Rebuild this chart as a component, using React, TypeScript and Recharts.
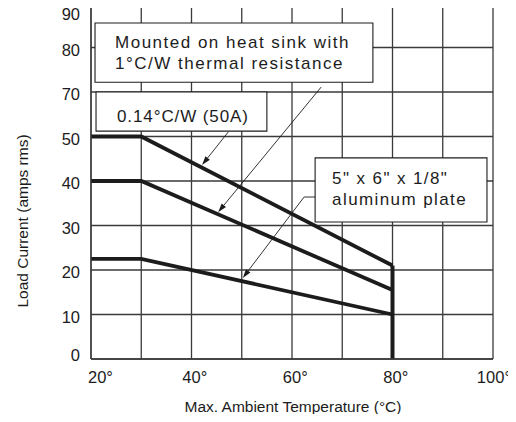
import React from 'react';
import { LineChart, Line, XAxis, YAxis, CartesianGrid, ReferenceLine, ReferenceArea } from 'recharts';

const FONT = '"Liberation Sans", Arial, Helvetica, sans-serif';
const INK = '#1c1c1c';
const RULE = '#3a3a3a';

// ambient temperature (°C) at the break points of each derating curve
const TEMPS = [20, 30, 80];
const SINK_014 = [50, 50, 21]; // 0.14°C/W heat sink (50A)
const SINK_1 = [40, 40, 15.5]; // 1°C/W heat sink
const PLATE = [22.5, 22.5, 10]; // 5" x 6" x 1/8" aluminum plate
const CUTOFF_T = 80;
const CUTOFF_I = [21, 0];

const X_TICKS = [20, 40, 60, 80, 100];
const X_GRID = [20, 30, 40, 50, 60, 70, 80, 90, 100];
// the printed scale has nine even rules and skips the 60 label
const Y_TICKS = [0, 10, 20, 30, 40, 50, 60, 70, 80];
const Y_TICK_LABELS = ['0', '10', '20', '30', '40', '50', '70', '80', '90'];

const rows = TEMPS.map((t, i) => ({ t, a: SINK_014[i], b: SINK_1[i], c: PLATE[i] }));
const cutoff = CUTOFF_I.map((v) => ({ t: CUTOFF_T, v }));

// callout boxes and their pointers, in chart coordinates
const NOTES = [
  { lines: ['Mounted on heat sink with', '1°C/W thermal resistance'], x: [20.8, 76.1], y: [62.2, 75.5], pad: 20, dy: 0, ls: 1.5 },
  { lines: ['0.14°C/W (50A)'], x: [21, 55], y: [51.2, 60], pad: 21, dy: 4, ls: 0.9 },
  { lines: ['5" x 6" x 1/8"', 'aluminum plate'], x: [64.6, 98.8], y: [30.8, 45.2], pad: 17, dy: -1, ls: 1.4 },
];
const POINTERS = [
  [[47.3, 51.0], [42.1, 43.6]],
  [[65.8, 61.1], [45.3, 33.0]],
  [[64.6, 36.4], [62.4, 36.4], [50.2, 18.2]],
];

const textStyle = { fontFamily: FONT, fill: INK };

function NoteText({ viewBox, lines, pad, dy, ls }: any) {
  const { x, y, height } = viewBox;
  const lh = 21;
  const top = y + height / 2 + dy - ((lines.length - 1) * lh) / 2;
  return (
    <text {...textStyle} fontSize={17} letterSpacing={ls}>
      {lines.map((l: string, i: number) => (
        <tspan key={i} x={x + pad} y={top + i * lh + 6}>
          {l}
        </tspan>
      ))}
    </text>
  );
}

const pointerShape = (head: boolean) => (p: any) => {
  const { x1, y1, x2, y2 } = p;
  const len = Math.hypot(x2 - x1, y2 - y1) || 1;
  const ux = (x2 - x1) / len;
  const uy = (y2 - y1) / len;
  const hl = 9;
  const hw = 2.8;
  const bx = x2 - ux * hl;
  const by = y2 - uy * hl;
  return (
    <g>
      <line x1={x1} y1={y1} x2={head ? bx : x2} y2={head ? by : y2} stroke={INK} strokeWidth={0.9} />
      {head && (
        <polygon
          points={`${x2},${y2} ${bx - uy * hw},${by + ux * hw} ${bx + uy * hw},${by - ux * hw}`}
          fill={INK}
        />
      )}
    </g>
  );
};

function XTick({ x, y, payload, index }: any) {
  const digits = String(payload.value);
  const last = index === X_TICKS.length - 1;
  const start = index === 0 ? x - 3 : x - (digits.length * 9.2) / 2;
  return (
    <text
      {...textStyle}
      fontSize={16.5}
      x={last ? x + 18 : start}
      y={y + 24}
      textAnchor={last ? 'end' : 'start'}
    >
      {digits}°
    </text>
  );
}

function YTick({ x, y, index }: any) {
  const cy = Math.min(Math.max(y + 2, 14), 355);
  return (
    <text {...textStyle} fontSize={16.5} x={x} y={cy + 6} textAnchor="end">
      {Y_TICK_LABELS[index]}
    </text>
  );
}

function XTitle({ viewBox }: any) {
  return (
    <text {...textStyle} fontSize={15.5} x={viewBox.x + viewBox.width / 2 + 1} y={viewBox.y + viewBox.height + 23} textAnchor="middle">
      Max. Ambient Temperature (°C)
    </text>
  );
}

function YTitle({ viewBox }: any) {
  const cx = viewBox.x - 9;
  const cy = viewBox.y + viewBox.height / 2 + 40;
  return (
    <text {...textStyle} fontSize={15.5} x={cx} y={cy} textAnchor="middle" dominantBaseline="central" transform={`rotate(-90 ${cx} ${cy})`}>
      Load Current (amps rms)
    </text>
  );
}

export default function App() {
  return (
    <div style={{ margin: -8, width: 516, height: 422, background: '#fff' }}>
      <LineChart width={516} height={422} data={rows} margin={{ top: 3, right: 23, left: 31, bottom: 33 }}>
        <CartesianGrid
          stroke={RULE}
          strokeWidth={1.3}
          verticalValues={X_GRID}
          horizontalValues={Y_TICKS}
        />
        <XAxis
          type="number"
          dataKey="t"
          domain={[20, 100]}
          ticks={X_TICKS}
          interval={0}
          height={30}
          tickLine={false}
          tickSize={0}
          tickMargin={0}
          axisLine={{ stroke: RULE, strokeWidth: 1.3 }}
          tick={<XTick />}
          label={<XTitle />}
        />
        <YAxis
          type="number"
          domain={[0, 80]}
          ticks={Y_TICKS}
          interval={0}
          width={60}
          tickLine={false}
          tickSize={0}
          tickMargin={11}
          axisLine={{ stroke: RULE, strokeWidth: 1.3 }}
          tick={<YTick />}
          label={<YTitle />}
        />
        {NOTES.map((n, i) => (
          <ReferenceArea
            key={'n' + i}
            x1={n.x[0]}
            x2={n.x[1]}
            y1={n.y[0]}
            y2={n.y[1]}
            fill="#fff"
            fillOpacity={1}
            stroke={INK}
            strokeWidth={1.1}
            ifOverflow="visible"
            label={<NoteText lines={n.lines} pad={n.pad} dy={n.dy} ls={n.ls} />}
          />
        ))}
        {POINTERS.flatMap((pts, i) =>
          pts.slice(1).map((p, j) => (
            <ReferenceLine
              key={'p' + i + '-' + j}
              segment={[
                { x: pts[j][0], y: pts[j][1] },
                { x: p[0], y: p[1] },
              ]}
              ifOverflow="visible"
              shape={pointerShape(j === pts.length - 2)}
            />
          ))
        )}
        <Line dataKey="a" stroke={INK} strokeWidth={3.8} dot={false} isAnimationActive={false} />
        <Line dataKey="b" stroke={INK} strokeWidth={3.8} dot={false} isAnimationActive={false} />
        <Line dataKey="c" stroke={INK} strokeWidth={3.8} dot={false} isAnimationActive={false} />
        <Line data={cutoff} dataKey="v" stroke={INK} strokeWidth={4} dot={false} isAnimationActive={false} />
      </LineChart>
    </div>
  );
}
